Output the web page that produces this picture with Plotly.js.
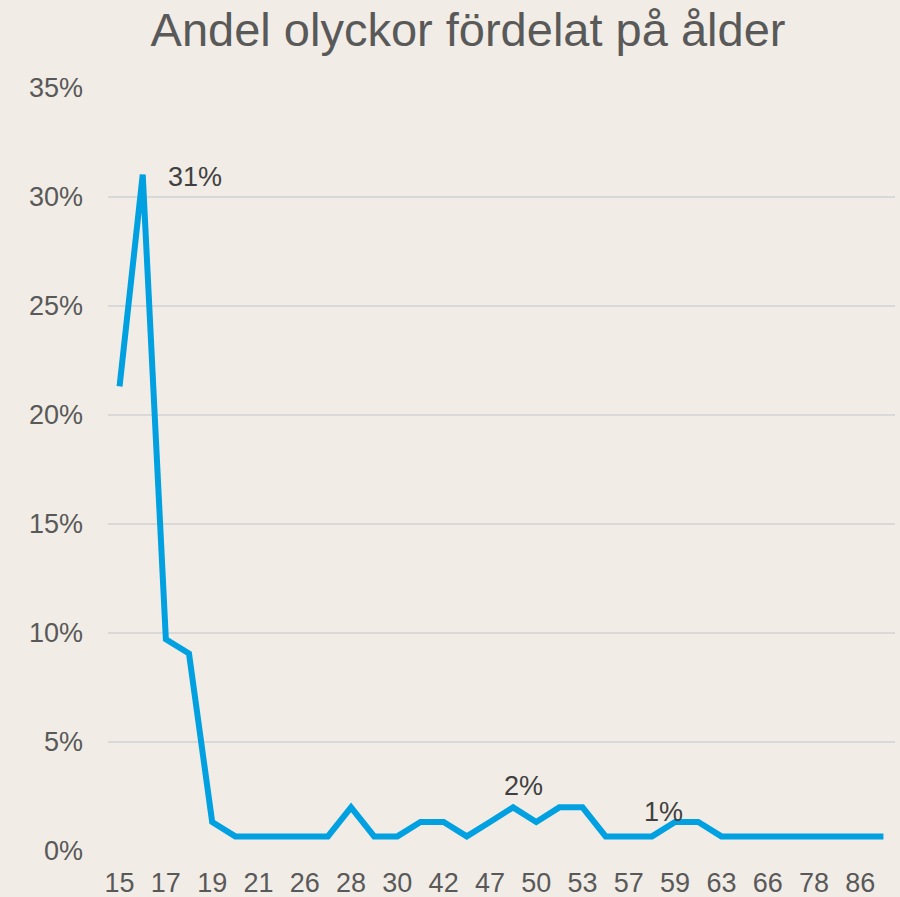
<!DOCTYPE html>
<html>
<head>
<meta charset="utf-8">
<script src="https://cdn.plot.ly/plotly-3.0.1.min.js"></script>
<style>
  html, body { margin: 0; padding: 0; background: #f1ede6; }
  #chart { width: 900px; height: 897px; }
</style>
</head>
<body>
<div id="chart"></div>
<script>
// Age categories (only every other one is labelled in the original)
const ages = ['15','16','17','18','19','20','21','24','26','27','28','29','30','40','42','45','47','49','50','51','53','55','57','58','59','61','63','64','66','70','78','80','86','88'];
// Share of accidents per age (fraction)
const shares = [0.213, 0.310, 0.097, 0.0905, 0.0133, 0.0067, 0.0067, 0.0067, 0.0067, 0.0067,
                0.0200, 0.0067, 0.0067, 0.0133, 0.0133, 0.0067, 0.0133, 0.0200, 0.0133, 0.0200,
                0.0200, 0.0067, 0.0067, 0.0067, 0.0133, 0.0133, 0.0067, 0.0067, 0.0067, 0.0067,
                0.0067, 0.0067, 0.0067, 0.0067];
// Points that carry a data label, with label offsets
const labelIdx = [1, 17, 24];
const labelShiftX = [23, 10, -12];
const labelShiftY = [-2, 21, 10];
const labelAnchor = ['left', 'center', 'center'];

const tickAges = ages.filter((a, i) => i % 2 === 0);

const trace = {
  x: ages,
  y: shares,
  type: 'scatter',
  mode: 'lines',
  line: { color: '#00a0e1', width: 6 },
  hoverinfo: 'x+y'
};

const annotations = labelIdx.map((idx, k) => ({
  x: idx,
  y: shares[idx],
  xref: 'x',
  yref: 'y',
  text: Math.round(shares[idx] * 100) + '%',
  showarrow: false,
  xanchor: labelAnchor[k],
  yanchor: 'middle',
  xshift: labelShiftX[k],
  yshift: labelShiftY[k],
  font: { family: 'Liberation Sans, Arial, sans-serif', size: 27, color: '#404040' }
}));

const layout = {
  width: 900,
  height: 897,
  paper_bgcolor: '#f1ede6',
  plot_bgcolor: '#f1ede6',
  margin: { l: 107.5, r: 4.5, t: 87, b: 46, pad: 0 },
  showlegend: false,
  title: {
    text: 'Andel olyckor fördelat på ålder',
    font: { family: 'Liberation Sans, Arial, sans-serif', size: 47, color: '#595959' },
    xref: 'container',
    x: 0.52,
    xanchor: 'center',
    yref: 'container',
    y: 0.967,
    yanchor: 'middle'
  },
  xaxis: {
    type: 'category',
    categoryorder: 'array',
    categoryarray: ages,
    range: [-0.5, ages.length - 0.5],
    tickmode: 'array',
    tickvals: tickAges,
    ticktext: tickAges,
    showgrid: false,
    showline: false,
    zeroline: false,
    ticks: '',
    ticklabelstandoff: 13,
    tickfont: { family: 'Liberation Sans, Arial, sans-serif', size: 27, color: '#595959' },
    fixedrange: true
  },
  yaxis: {
    range: [0, 0.3502],
    tickmode: 'array',
    tickvals: [0, 0.05, 0.10, 0.15, 0.20, 0.25, 0.30, 0.35],
    tickformat: '.0%',
    showgrid: true,
    gridcolor: '#d9d9d9',
    gridwidth: 2,
    zeroline: false,
    showline: false,
    ticks: '',
    ticklabelstandoff: 24,
    tickfont: { family: 'Liberation Sans, Arial, sans-serif', size: 27, color: '#595959' },
    fixedrange: true
  },
  annotations: annotations
};

Plotly.newPlot('chart', [trace], layout, { displayModeBar: false, staticPlot: true });
</script>
</body>
</html>
